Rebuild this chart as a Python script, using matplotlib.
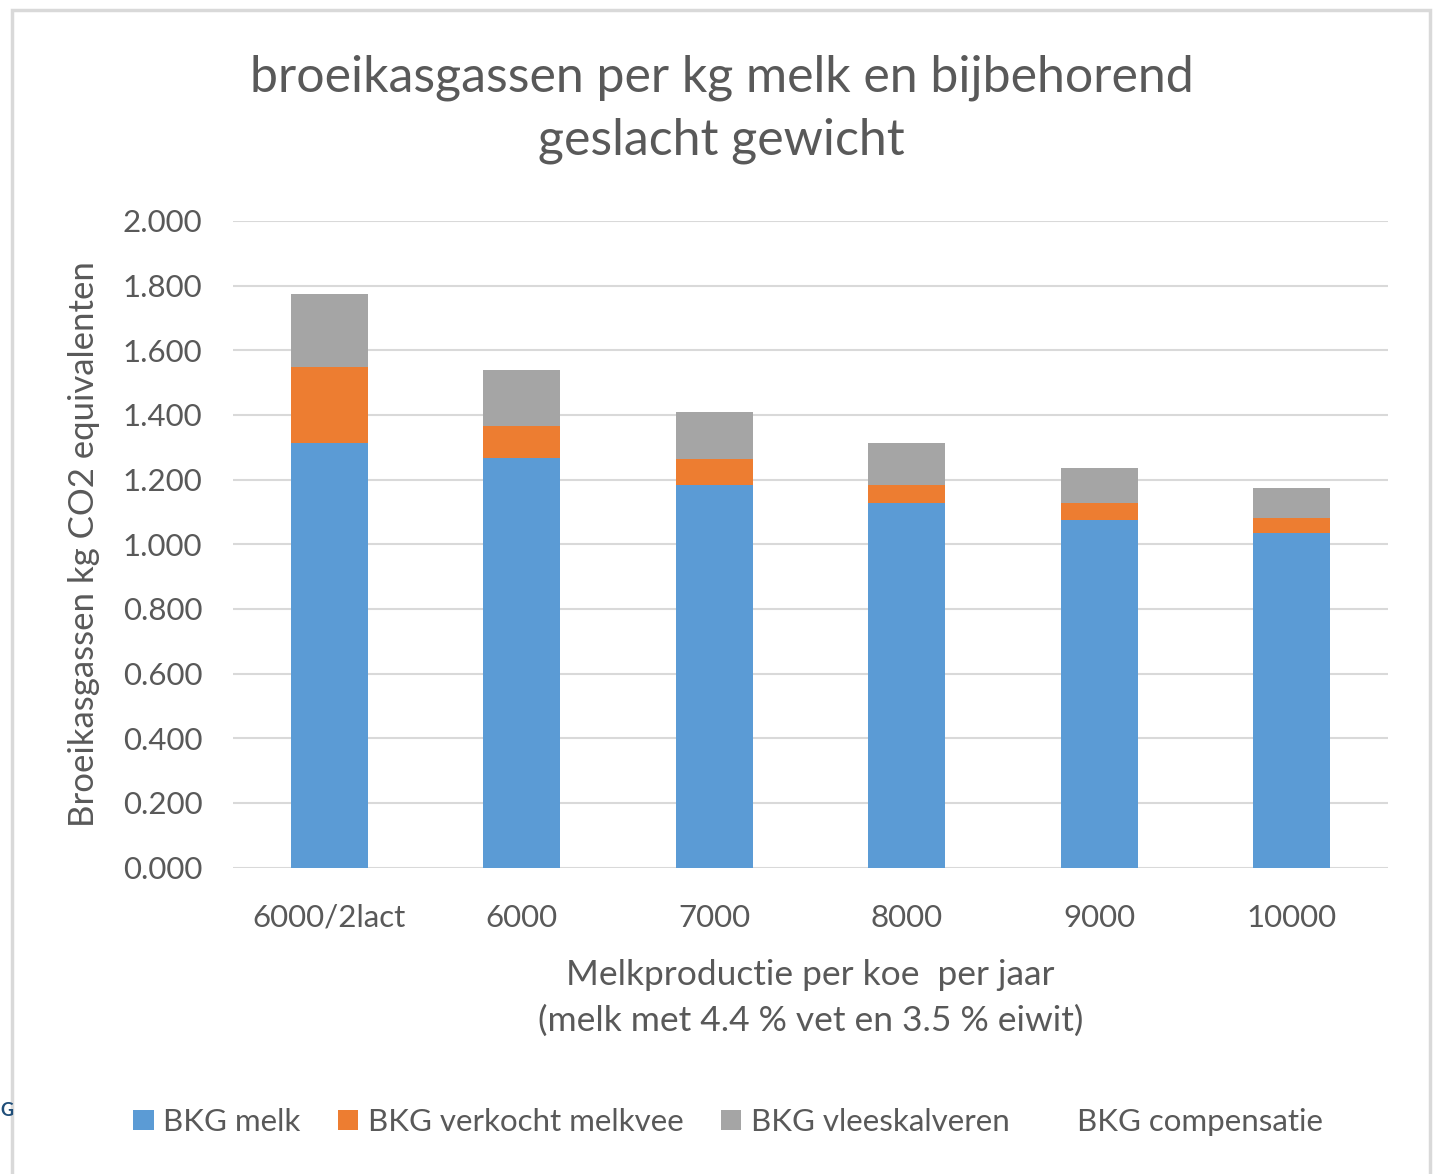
import matplotlib
matplotlib.use("Agg")
import matplotlib.pyplot as plt
from matplotlib.patches import Rectangle
import numpy as np

# data
categories = ["6000/2lact", "6000", "7000", "8000", "9000", "10000"]
bkg_melk = [1.312, 1.266, 1.184, 1.127, 1.075, 1.035]
bkg_verkocht_melkvee = [0.237, 0.099, 0.081, 0.057, 0.052, 0.045]
bkg_vleeskalveren = [0.225, 0.173, 0.145, 0.128, 0.110, 0.093]
bkg_compensatie = [0, 0, 0, 0, 0, 0]
y_ticks = [0.0, 0.2, 0.4, 0.6, 0.8, 1.0, 1.2, 1.4, 1.6, 1.8, 2.0]

TXT = "#595959"
plt.rcParams["font.family"] = ["Lato", "DejaVu Sans"]

fig = plt.figure(figsize=(14.33, 11.74), dpi=100)
ax = fig.add_axes([0.1626, 0.2610, 0.8060, 0.5508])

x = np.arange(len(categories))
w = 0.4
base = np.zeros(len(categories))
series = [
    ("BKG melk", bkg_melk, "#5B9BD5"),
    ("BKG verkocht melkvee", bkg_verkocht_melkvee, "#ED7D31"),
    ("BKG vleeskalveren", bkg_vleeskalveren, "#A5A5A5"),
]
handles = []
for name, vals, col in series:
    b = ax.bar(x, vals, w, bottom=base, color=col, label=name, zorder=3)
    handles.append(b)
    base = base + np.array(vals)
# compensatie series has no fill, so its legend key stays empty
b = ax.bar(x, bkg_compensatie, w, bottom=base, color="none", label="BKG compensatie", zorder=3)
handles.append(b)

ax.set_xlim(-0.5, len(categories) - 0.5)
ax.set_ylim(0, 2.0)
ax.set_yticks(y_ticks)
ax.set_yticklabels([f"{v:.3f}" for v in y_ticks])
ax.set_xticks(x)
ax.set_xticklabels(categories)
ax.tick_params(axis="both", length=0, labelsize=22.5, colors=TXT)
ax.tick_params(axis="y", pad=22)
ax.tick_params(axis="x", pad=26)
ax.grid(axis="y", color="#d9d9d9", linewidth=1.5, zorder=0)
for s in ["top", "right", "left", "bottom"]:
    ax.spines[s].set_visible(False)

ax.set_ylabel("Broeikasgassen kg CO2 equivalenten", fontsize=25, color=TXT, labelpad=16)
ax.set_xlabel("Melkproductie per koe  per jaar\n(melk met 4.4 % vet en 3.5 % eiwit)",
              fontsize=25.5, color=TXT, labelpad=20, linespacing=1.5)

fig.text(0.5035, 0.907, "broeikasgassen per kg melk en bijbehorend\ngeslacht gewicht",
         ha="center", va="center", fontsize=36, color=TXT, linespacing=1.45)

leg = fig.legend(handles=handles, loc="center", bbox_to_anchor=(0.508, 0.0443), ncol=4,
                 frameon=False, fontsize=22.5, handlelength=0.65, handleheight=0.65,
                 handletextpad=0.3, columnspacing=1.2)
for t in leg.get_texts():
    t.set_color(TXT)

# outer chart border
fig.patches.append(Rectangle((12 / 1433, -0.01), (1430 - 12) / 1433, 1 - 10 / 1174 + 0.01,
                             transform=fig.transFigure, fill=False,
                             edgecolor="#d9d9d9", linewidth=2.5))
# logo fragment at the left edge
fig.text(0.0005, 1 - 1110 / 1174, "G", ha="left", va="center", fontsize=13,
         fontweight="bold", color="#1f4e79")

fig.savefig("out.png", dpi=100, facecolor="white")
